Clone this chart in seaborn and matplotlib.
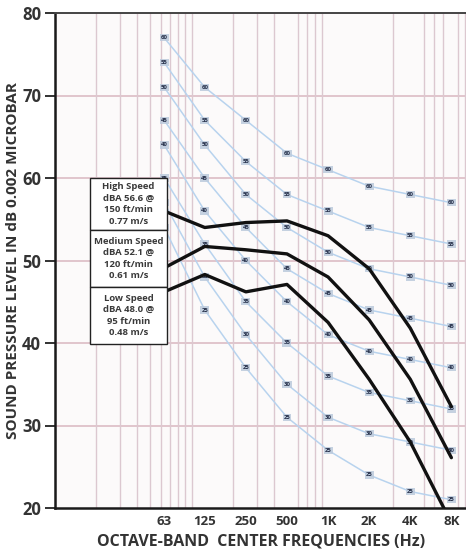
import numpy as np
import pandas as pd
import matplotlib
matplotlib.use("Agg")
import matplotlib.pyplot as plt
from matplotlib.ticker import NullFormatter, FixedLocator
import seaborn as sns

# octave band centre frequencies (Hz)
freqs = [63, 125, 250, 500, 1000, 2000, 4000, 8000]
freq_labels = ["63", "125", "250", "500", "1K", "2K", "4K", "8K"]

# NC reference curves
nc_levels = [25, 30, 35, 40, 45, 50, 55, 60]
nc_25 = [54, 44, 37, 31, 27, 24, 22, 21]
nc_30 = [57, 48, 41, 35, 31, 29, 28, 27]
nc_35 = [60, 52, 45, 40, 36, 34, 33, 32]
nc_40 = [64, 56, 50, 45, 41, 39, 38, 37]
nc_45 = [67, 60, 54, 49, 46, 44, 43, 42]
nc_50 = [71, 64, 58, 54, 51, 49, 48, 47]
nc_55 = [74, 67, 62, 58, 56, 54, 53, 52]
nc_60 = [77, 71, 67, 63, 61, 59, 58, 57]
nc_curves = [nc_25, nc_30, nc_35, nc_40, nc_45, nc_50, nc_55, nc_60]

# measured fan speeds
high_speed = [56.0, 54.0, 54.6, 54.8, 53.0, 49.0, 41.8, 32.3]
medium_speed = [49.1, 51.7, 51.3, 50.8, 48.0, 42.8, 35.6, 26.1]
low_speed = [46.2, 48.3, 46.2, 47.1, 42.5, 35.6, 28.0, 18.2]

box_text = [
    "High Speed\ndBA 56.6 @\n150 ft/min\n0.77 m/s",
    "Medium Speed\ndBA 52.1 @\n120 ft/min\n0.61 m/s",
    "Low Speed\ndBA 48.0 @\n95 ft/min\n0.48 m/s",
]

# log grid lines
grid_freqs = [10, 20, 30, 40, 50, 60, 70, 80, 90, 100, 200, 300, 400, 500,
              600, 700, 800, 900, 1000, 2000, 3000, 4000, 5000, 6000,
              7000, 8000, 9000, 10000]

sns.set_theme(style="white")
plt.rcParams['font.family'] = ['Open Sans', 'DejaVu Sans']

fig = plt.figure(figsize=(4.66, 5.53), dpi=100)
ax = fig.add_axes([55 / 466, 1 - 508 / 553, 1 - 55 / 466 + 0.002, (508 - 13) / 553])
ax.set_facecolor("#fcfafa")

ax.set_xscale("log")
ax.set_xlim(10, 10400)
ax.set_ylim(20, 80)

# grid
ax.xaxis.set_minor_locator(FixedLocator(grid_freqs))
ax.xaxis.set_minor_formatter(NullFormatter())
ax.grid(which="minor", axis="x", color="#dcc8d0", linewidth=1.0)
ax.set_axisbelow(True)
for y in [30, 40, 50, 60, 70]:
    ax.axhline(y, color="#dcbcc4", linewidth=1.2, zorder=0)

# NC curves
nc_df = pd.DataFrame({
    "freq": freqs * len(nc_levels),
    "level": sum(nc_curves, []),
    "nc": np.repeat(nc_levels, len(freqs)),
})
sns.lineplot(data=nc_df, x="freq", y="level", units="nc", estimator=None,
             color="#b8d3ee", linewidth=1.1, ax=ax, zorder=2)
for nc, vals in zip(nc_levels, nc_curves):
    for f, v in zip(freqs, vals):
        ax.text(f, v, str(nc), fontsize=4.3, fontweight="bold", color="#26304a",
                ha="center", va="center", zorder=3,
                bbox=dict(boxstyle="square,pad=0.18", fc="#bccadc", ec="none", alpha=0.85))

# speed curves
for vals in [high_speed, medium_speed, low_speed]:
    sns.lineplot(x=freqs, y=vals, color="#111111", linewidth=2.4, ax=ax, zorder=4)

# legend boxes
box_l, box_r = 90, 167
box_edges = [178, 230, 287, 344]
for i, txt in enumerate(box_text):
    top = box_edges[i]
    bot = box_edges[i + 1]
    x0 = box_l / 466
    y0 = 1 - bot / 553
    rect = plt.Rectangle((x0, y0), (box_r - box_l) / 466, (bot - top) / 553,
                         transform=fig.transFigure, facecolor="white",
                         edgecolor="#222222", linewidth=1.0, zorder=10)
    fig.add_artist(rect)
    fig.text((box_l + box_r) / 2 / 466, 1 - (top + bot) / 2 / 553, txt,
             ha="center", va="center", fontsize=6.8, fontweight="bold",
             color="#3a3a3a", linespacing=1.35, zorder=11)

# axes styling
ax.xaxis.set_major_locator(FixedLocator(freqs))
ax.set_xticklabels(freq_labels, fontsize=9.5, fontweight="bold", color="#333333")
ax.tick_params(axis="x", which="both", length=0, pad=5)
ax.set_yticks([20, 30, 40, 50, 60, 70, 80])
ax.set_yticklabels(["20", "30", "40", "50", "60", "70", "80"],
                   fontsize=12, fontweight="bold", color="#333333")
ax.tick_params(axis="y", which="major", length=7, width=1.3, color="#222222",
               direction="out", left=True, pad=3)
for side in ["left", "bottom"]:
    ax.spines[side].set_color("#1a1a1a")
    ax.spines[side].set_linewidth(1.8)
ax.spines["top"].set_color("#444444")
ax.spines["top"].set_linewidth(1.4)
ax.spines["right"].set_visible(False)

ax.set_xlabel("OCTAVE-BAND  CENTER FREQUENCIES (Hz)", fontsize=11.5,
              fontweight="bold", color="#333333", labelpad=4)
ax.set_ylabel("SOUND PRESSURE LEVEL IN dB 0.002 MICROBAR", fontsize=11,
              fontweight="bold", color="#333333")
ax.yaxis.set_label_coords(-0.086, 0.5)

fig.savefig("out.png", dpi=100)
